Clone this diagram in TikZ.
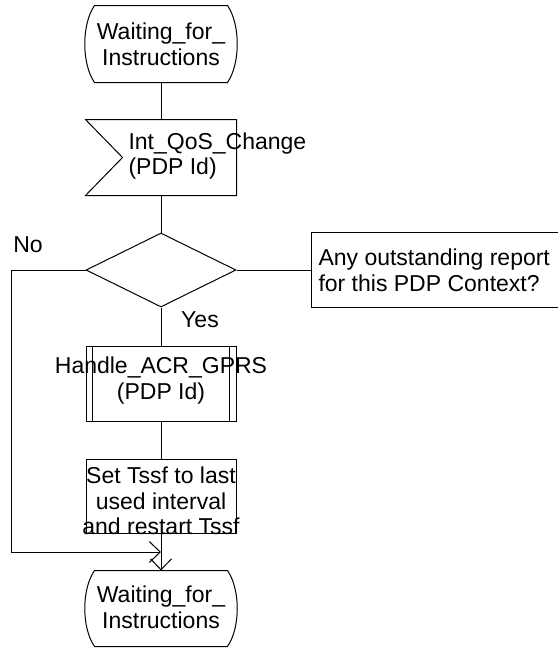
\documentclass[tikz,border=0pt]{standalone}
\usepackage{fontspec}
\setmainfont{Liberation Sans}
\usetikzlibrary{shapes.geometric,arrows.meta}
\begin{document}
\begin{tikzpicture}[x=1pt,y=-1pt, line width=1pt,
  frame/.style={draw=none, inner sep=0pt, minimum width=150pt},
  txt/.style={inner sep=0pt, align=center, font=\fontsize{23}{25.5}\selectfont},
  flow/.style={-{Straight Barb[length=11pt,width=21pt]}}]
\useasboundingbox (0,0) rectangle (557,653);
% shapes
\node[frame, minimum height=76pt] (s1) at (161,44) {};
\node[frame, minimum height=75pt] (in1) at (161,157.5) {};
\node[draw, diamond, minimum width=150pt, minimum height=74pt, inner sep=0pt] (d) at (161,270) {};
\node[frame, minimum width=245pt, minimum height=74pt] (c) at (434.5,270) {};
\node[frame, draw, minimum height=75pt] (p) at (161,383.5) {};
\node[frame, draw, minimum height=74pt] (t) at (161,496) {};
\node[frame, minimum height=75pt] (s2) at (161,608.5) {};
% outlines
\draw ([xshift=9pt]s1.north west) -- ([xshift=-9pt]s1.north east)
  .. controls +(13,19) and +(13,-19) .. ([xshift=-9pt]s1.south east)
  -- ([xshift=9pt]s1.south west)
  .. controls +(-13,-19) and +(-13,19) .. cycle;
\draw ([xshift=9pt]s2.north west) -- ([xshift=-9pt]s2.north east)
  .. controls +(13,19) and +(13,-19) .. ([xshift=-9pt]s2.south east)
  -- ([xshift=9pt]s2.south west)
  .. controls +(-13,-19) and +(-13,19) .. cycle;
\draw (in1.north west) -- (in1.north east) -- (in1.south east) -- (in1.south west)
  -- ([xshift=37pt]in1.west) -- cycle;
\draw ([xshift=7pt]p.north west) -- ([xshift=7pt]p.south west);
\draw ([xshift=-7pt]p.north east) -- ([xshift=-7pt]p.south east);
\draw (c.north east) -- (c.north west) -- (c.south west) -- (c.south east);
% texts
\node[txt] (s1t) at (161,44.5) {Waiting\_for\_\\Instructions};
\node[txt, anchor=west, align=left] (in1t) at (128,156) {Int\_QoS\_Change\\(PDP Id)};
\node[txt, anchor=west, align=left] (ct) at (318,270.5) {Any outstanding report\\for this PDP Context?};
\node[txt] (pt) at (161,380.5) {Handle\_ACR\_GPRS\\(PDP Id)};
\node[txt] (tt) at (161,501) {Set Tssf to last\\used interval\\and restart Tssf};
\node[txt] (s2t) at (161,607.5) {Waiting\_for\_\\Instructions};
\node[txt] (no) at (28,245) {No};
\node[txt] (yes) at (200,320) {Yes};
% connectors
\coordinate (nl) at (11,270);
\coordinate (j) at (161,552);
\draw (s1) -- (in1);
\draw (in1) -- (d);
\draw (d) -- (p);
\draw (p) -- (t);
\draw[flow] (t) -- (s2);
\draw (d.east) -- (c.west);
\draw[flow] (d.west) -- (nl) |- (j);
\end{tikzpicture}
\end{document}
